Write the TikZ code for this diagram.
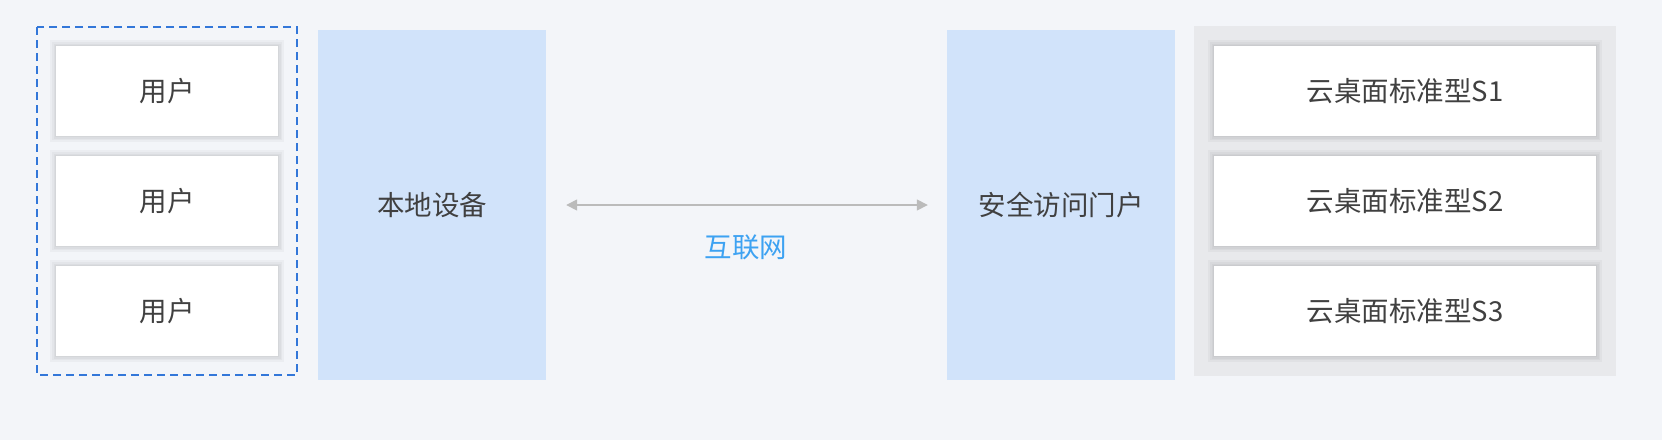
\documentclass[tikz,border=0pt]{standalone}
\usepackage{fontspec}
\setmainfont{Noto Sans CJK SC}
\usetikzlibrary{arrows.meta}
\definecolor{bgc}{HTML}{F3F5F9}
\definecolor{bluebox}{HTML}{D1E3FA}
\definecolor{panel}{HTML}{E8E9EC}
\definecolor{dashc}{HTML}{3377D9}
\definecolor{txt}{HTML}{404040}
\definecolor{arrc}{HTML}{BBBBBB}
\definecolor{netc}{HTML}{3DA2F2}
\tikzset{
  sh/.style={preaction={draw=black, draw opacity=0.03, line width=#1, yshift=-3pt}},
  card/.style={fill=white, draw=none, minimum height=90pt, inner sep=0pt,
    font=\fontsize{27.5}{32}\selectfont, text=txt,
    sh=12pt, sh=8pt, sh=5pt, sh=2.5pt},
  usercard/.style={card, minimum width=222pt},
  deskcard/.style={card, minimum width=382pt},
  tallbox/.style={fill=bluebox, draw=none, minimum width=228pt, minimum height=350pt, inner sep=0pt,
    font=\fontsize{27.5}{32}\selectfont, text=txt},
}
\begin{document}
\begin{tikzpicture}[x=1pt,y=-1pt]
\useasboundingbox (0,0) rectangle (1662,440);
\fill[bgc] (0,0) rectangle (1662,440);
\coordinate (gp1) at (1194,26);
\coordinate (gp2) at (1616,376);
\fill[panel] (gp1) rectangle (gp2);
\coordinate (ds1) at (37,27);
\coordinate (ds2) at (297,375);
\draw[dashc, line width=1.8pt, dash pattern=on 8pt off 5pt] (ds1) rectangle (ds2);
\node[usercard] (u1) at (167,91) {用户};
\node[usercard] (u2) at (167,201) {用户};
\node[usercard] (u3) at (167,311) {用户};
\node[tallbox] (local) at (432,205) {本地设备};
\node[tallbox] (portal) at (1061,205) {安全访问门户};
\node[deskcard] (s1) at (1405,91) {云桌面标准型S1};
\node[deskcard] (s2) at (1405,201) {云桌面标准型S2};
\node[deskcard] (s3) at (1405,311) {云桌面标准型S3};
\draw[arrc, line width=1.5pt, {Triangle[width=11pt,length=11pt]}-{Triangle[width=11pt,length=11pt]}, shorten <=20pt, shorten >=19pt] (local.east) -- (portal.west);
\node[text=netc, font=\fontsize{27.5}{32}\selectfont] (net) at (746,247) {互联网};
\end{tikzpicture}
\end{document}
